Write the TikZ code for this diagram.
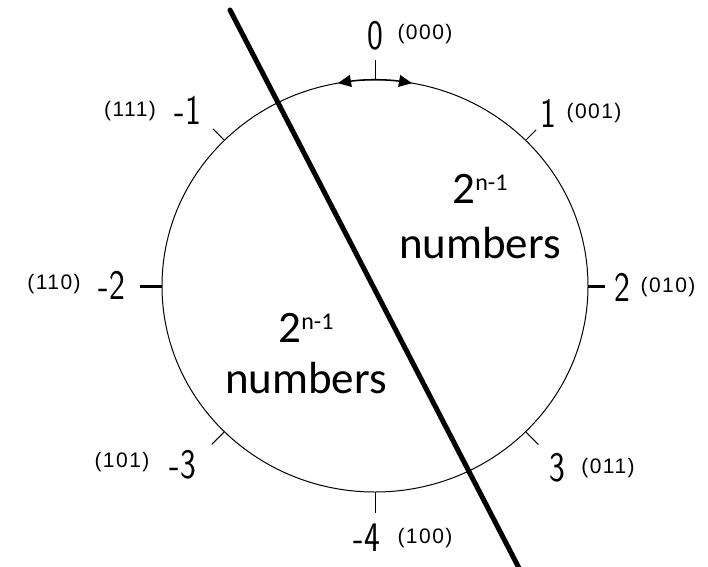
\documentclass[tikz,border=0pt]{standalone}
\usepackage{fontspec}
\setmainfont{Carlito}
\newfontfamily\labelfont[LetterSpace=7]{Liberation Sans}
\usetikzlibrary{arrows.meta}

\newcommand{\narrow}[1]{\scalebox{0.8}[1]{#1}}
\newcommand{\expo}[1]{\raisebox{13pt}{\fontsize{24}{24}\selectfont #1}}

\begin{document}
\begin{tikzpicture}[
        x=1pt, y=-1pt,
        value/.style={font=\sffamily\fontsize{42}{42}\selectfont, inner sep=0pt},
        code/.style={font=\labelfont\fontsize{21}{21}\selectfont, inner sep=0pt},
        count/.style={font=\fontsize{45}{45}\selectfont, inner sep=0pt, anchor=base},
        tick/.style={line width=1pt},
        bigtick/.style={line width=3pt},
        arrow/.style={{Triangle[length=13pt,width=12pt]}-{Triangle[length=13pt,width=12pt]}, line width=1pt}
    ]
        \useasboundingbox (0,0) rectangle (708,566);
        \coordinate (c) at (375,286);

        % the wheel
        \draw[line width=1pt] (c) ellipse [x radius=213pt, y radius=206pt];
        \draw[arrow] ([shift={(100:213pt and 206pt)}]c) arc[start angle=100, end angle=80, x radius=213pt, y radius=206pt];
        \begin{scope}[shift={(c)}]
            \foreach \a/\l in {90/20, 45/15, -45/18, -90/21, -135/18, 135/16}
                \draw[tick] (\a:213pt and 206pt) -- (\a:213pt+\l pt and 206pt+\l pt);
            \foreach \a/\l in {0/17, 180/22}
                \draw[bigtick] (\a:213pt and 206pt) -- (\a:213pt+\l pt and 206pt+\l pt);
        \end{scope}

        % values and codes
        \node (v0) [value] at (375,36) {\narrow{0}};
        \node (c0) [code] at (425,34) {(000)};
        \node (v1) [value] at (548,113) {\narrow{1}};
        \node (c1) [code] at (594,113) {(001)};
        \node (v2) [value] at (622,287) {\narrow{2}};
        \node (c2) [code] at (668,287) {(010)};
        \node (v3) [value] at (557,468) {\narrow{3}};
        \node (c3) [code] at (608,468) {(011)};
        \node (v4) [value] at (367,538) {\narrow{-4}};
        \node (c4) [code] at (425,538) {(100)};
        \node (v5) [value] at (183,465) {\narrow{-3}};
        \node (c5) [code] at (122,462) {(101)};
        \node (v6) [value] at (112,285) {\narrow{-2}};
        \node (c6) [code] at (54,284) {(110)};
        \node (v7) [value] at (188,110) {\narrow{-1}};
        \node (c7) [code] at (130,111) {(111)};

        % the two halves
        \node (powr) [count] at (480,203) {2\expo{n-1}};
        \node (numr) [count] at (480,258) {numbers};
        \node (powl) [count] at (306,342) {2\expo{n-1}};
        \node (numl) [count] at (306,393) {numbers};

        \coordinate (ltop) at (230,10);
        \coordinate (lbot) at (520,570);
        \draw[line width=5pt, line cap=round] (ltop) -- (lbot);
    \end{tikzpicture}
\end{document}
